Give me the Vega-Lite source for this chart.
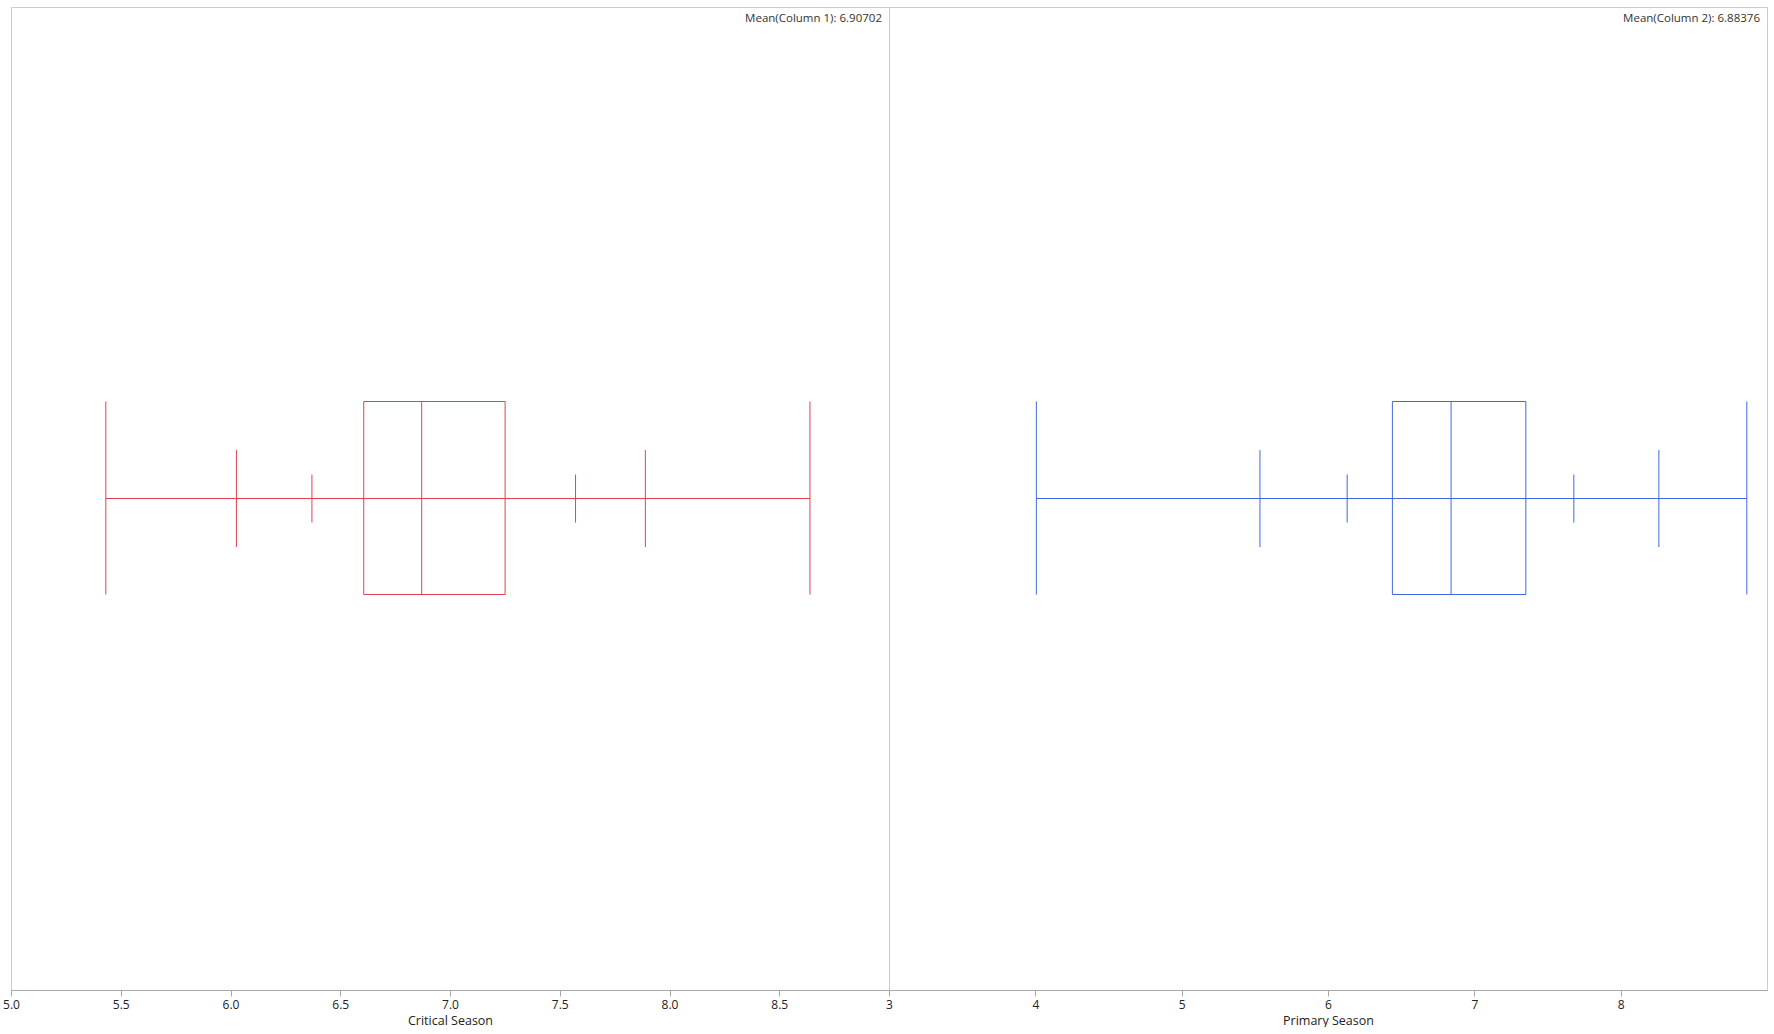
{
  "$schema": "https://vega.github.io/schema/vega-lite/v6.json",
  "padding": {"left": 2, "top": 6, "right": 0, "bottom": 0},
  "background": "white",
  "spacing": 0,
  "bounds": "flush",
  "datasets": {
    "critical": [
      {"season": "Critical Season", "series": "Column 1", "min": 5.432, "p2_5": 6.027, "p10": 6.371, "q1": 6.607, "median": 6.871, "q3": 7.251, "p90": 7.572, "p97_5": 7.89, "max": 8.64, "mean": 6.90702, "meanLabel": "Mean(Column 1): 6.90702"}
    ],
    "primary": [
      {"season": "Primary Season", "series": "Column 2", "min": 4.007, "p2_5": 5.535, "p10": 6.131, "q1": 6.44, "median": 6.841, "q3": 7.352, "p90": 7.68, "p97_5": 8.261, "max": 8.862, "mean": 6.88376, "meanLabel": "Mean(Column 2): 6.88376"}
    ]
  },
  "hconcat": [
    {
      "width": 878,
      "height": 983,
      "data": {"name": "critical"},
      "layer": [
        {
          "mark": {"type": "rule", "color": "#e0404f", "strokeWidth": 1},
          "encoding": {
            "x": {"field": "min", "type": "quantitative", "scale": {"domain": [5, 9], "nice": false, "zero": false},
                  "axis": {"title": "Critical Season", "values": [5, 5.5, 6, 6.5, 7, 7.5, 8, 8.5], "format": ".1f"}},
            "x2": {"field": "max"},
            "y": {"datum": 0, "type": "quantitative", "scale": {"domain": [-491.5, 491.5], "nice": false, "zero": false}, "axis": null}
          }
        },
        {
          "mark": {"type": "rect", "fill": "white", "fillOpacity": 0, "stroke": "#e0404f", "strokeWidth": 1},
          "encoding": {
            "x": {"field": "q1", "type": "quantitative"},
            "x2": {"field": "q3"},
            "y": {"datum": -96, "type": "quantitative"},
            "y2": {"datum": 97}
          }
        },
        {
          "transform": [{"fold": ["min", "median", "max"], "as": ["stat", "value"]}],
          "mark": {"type": "rule", "color": "#e0404f", "strokeWidth": 1},
          "encoding": {
            "x": {"field": "value", "type": "quantitative"},
            "y": {"datum": -96, "type": "quantitative"},
            "y2": {"datum": 97}
          }
        },
        {
          "transform": [{"fold": ["p2_5", "p97_5"], "as": ["stat", "value"]}],
          "mark": {"type": "rule", "color": "#e0404f", "strokeWidth": 1},
          "encoding": {
            "x": {"field": "value", "type": "quantitative"},
            "y": {"datum": -48.5, "type": "quantitative"},
            "y2": {"datum": 48.5}
          }
        },
        {
          "transform": [{"fold": ["p10", "p90"], "as": ["stat", "value"]}],
          "mark": {"type": "rule", "color": "#e0404f", "strokeWidth": 1},
          "encoding": {
            "x": {"field": "value", "type": "quantitative"},
            "y": {"datum": -24, "type": "quantitative"},
            "y2": {"datum": 24}
          }
        },
        {
          "mark": {"type": "text", "align": "right", "baseline": "top", "dx": -7, "dy": 6, "font": "Open Sans", "fontSize": 11.5, "color": "#333333"},
          "encoding": {
            "x": {"datum": 9, "type": "quantitative"},
            "y": {"datum": 491.5, "type": "quantitative"},
            "text": {"field": "meanLabel"}
          }
        }
      ]
    },
    {
      "width": 878,
      "height": 983,
      "data": {"name": "primary"},
      "layer": [
        {
          "mark": {"type": "rule", "color": "#3f68e0", "strokeWidth": 1},
          "encoding": {
            "x": {"field": "min", "type": "quantitative", "scale": {"domain": [3, 9], "nice": false, "zero": false},
                  "axis": {"title": "Primary Season", "values": [3, 4, 5, 6, 7, 8], "format": "d"}},
            "x2": {"field": "max"},
            "y": {"datum": 0, "type": "quantitative", "scale": {"domain": [-491.5, 491.5], "nice": false, "zero": false}, "axis": null}
          }
        },
        {
          "mark": {"type": "rect", "fill": "white", "fillOpacity": 0, "stroke": "#3f68e0", "strokeWidth": 1},
          "encoding": {
            "x": {"field": "q1", "type": "quantitative"},
            "x2": {"field": "q3"},
            "y": {"datum": -96, "type": "quantitative"},
            "y2": {"datum": 97}
          }
        },
        {
          "transform": [{"fold": ["min", "median", "max"], "as": ["stat", "value"]}],
          "mark": {"type": "rule", "color": "#3f68e0", "strokeWidth": 1},
          "encoding": {
            "x": {"field": "value", "type": "quantitative"},
            "y": {"datum": -96, "type": "quantitative"},
            "y2": {"datum": 97}
          }
        },
        {
          "transform": [{"fold": ["p2_5", "p97_5"], "as": ["stat", "value"]}],
          "mark": {"type": "rule", "color": "#3f68e0", "strokeWidth": 1},
          "encoding": {
            "x": {"field": "value", "type": "quantitative"},
            "y": {"datum": -48.5, "type": "quantitative"},
            "y2": {"datum": 48.5}
          }
        },
        {
          "transform": [{"fold": ["p10", "p90"], "as": ["stat", "value"]}],
          "mark": {"type": "rule", "color": "#3f68e0", "strokeWidth": 1},
          "encoding": {
            "x": {"field": "value", "type": "quantitative"},
            "y": {"datum": -24, "type": "quantitative"},
            "y2": {"datum": 24}
          }
        },
        {
          "mark": {"type": "text", "align": "right", "baseline": "top", "dx": -7, "dy": 6, "font": "Open Sans", "fontSize": 11.5, "color": "#333333"},
          "encoding": {
            "x": {"datum": 9, "type": "quantitative"},
            "y": {"datum": 491.5, "type": "quantitative"},
            "text": {"field": "meanLabel"}
          }
        }
      ]
    }
  ],
  "config": {
    "view": {"stroke": "#cccccc", "strokeWidth": 1},
    "axis": {
      "grid": false,
      "domainColor": "#a8a8a8",
      "tickColor": "#a8a8a8",
      "tickSize": 6,
      "labelFlush": false,
      "labelFont": "Open Sans",
      "labelFontSize": 12,
      "labelColor": "#222222",
      "labelPadding": 3,
      "titleFont": "Open Sans",
      "titleFontSize": 12.5,
      "titleFontWeight": "normal",
      "titleColor": "#222222",
      "titlePadding": 4
    }
  }
}
